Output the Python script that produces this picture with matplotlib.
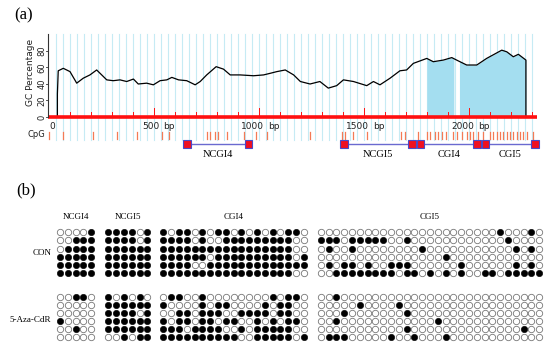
import numpy as np
import matplotlib
matplotlib.use("Agg")
import matplotlib.pyplot as plt
from matplotlib.patches import Rectangle

# ---- (a) GC content / CpG map ----
gc_bp = [0, 40, 40, 44, 68, 100, 132, 163, 195, 227, 251, 275, 306, 338, 370, 402, 425, 465,
         497, 529, 561, 585, 617, 656, 696, 720, 751, 796, 831, 863, 910, 974, 1022, 1054,
         1085, 1125, 1165, 1197, 1243, 1290, 1330, 1370, 1402, 1450, 1513, 1545, 1576, 1624,
         1671, 1703, 1735, 1799, 1830, 1878, 1918, 1941, 1989, 2037, 2084, 2156, 2180, 2211,
         2235, 2271, 2271]
gc_pct = [0, 0, 28, 56, 59, 55, 41, 47, 51, 57, 51, 45, 44, 45, 43, 46, 40, 41,
          39, 44, 45, 48, 45, 44, 39, 43, 51, 61, 58, 51, 51, 50, 51, 53,
          55, 57, 51, 43, 40, 43, 35, 38, 45, 43, 38, 43, 39, 47,
          56, 57, 65, 71, 67, 69, 72, 69, 63, 63, 71, 81, 79, 73,
          76, 69, 0]
seq_len = 2324
island_start = [1799, 1954]
island_end = [1928, 2271]
cpg_sites = [2, 68, 208, 322, 418, 537, 573, 751, 767, 790, 806, 849, 930, 986, 1037,
             1243, 1394, 1410, 1446, 1513, 1675, 1695, 1759, 1799, 1814, 1838, 1854, 1870,
             1890, 1925, 1941, 1965, 1989, 2005, 2020, 2044, 2068, 2100, 2116, 2132, 2148,
             2163, 2179, 2195, 2211, 2227, 2243, 2259, 2275, 2306]
primer_names = ["NCGI4", "NCGI5", "CGI4", "CGI5"]
primer_f = [638, 1386, 1751, 2060]
primer_r = [933, 1711, 2021, 2295]
bp_labels = [500, 1000, 1500, 2000]
gc_ticks = [0, 20, 40, 60, 80]

# ---- (b) methylation patterns (1 = methylated) ----
ncgi4_con = ["00001", "00111", "01111", "11111", "11111", "11111"]
ncgi5_con = ["111101", "111101", "111111", "111111", "111111", "111111"]
cgi4_con = ["1011010110101010110",
            "1111010011111111100",
            "1111111111111111100",
            "1111110111111111101",
            "1111001111111111111",
            "1111111111111111100"]
ncgi4_aza = ["00110", "00000", "00000", "10000", "00100", "00000"]
ncgi5_aza = ["101010", "111111", "111101", "111111", "111111", "001011"]
cgi4_aza = ["0110010000000010110",
            "1000010110000101100",
            "0011011100111101100",
            "1011011011001010110",
            "1110111100101111100",
            "1111111111001111101"]
cgi5_ncol = 29
cgi5_con = [[23, 27],
            [0, 1, 2, 4, 5, 6, 7, 8, 11, 24],
            [1, 4, 13, 25, 27],
            [16],
            [1, 3, 4, 6, 9, 10, 11, 18, 25, 27],
            [2, 3, 4, 5, 6, 7, 8, 9, 11, 12, 14, 16, 18, 21, 22, 24, 25, 26, 27, 28]]
cgi5_aza = [[2], [5, 10], [3, 11], [2, 15], [11, 26], [1, 2, 3, 9, 12, 16]]
group_names = ["CON", "5-Aza-CdR"]


def cgi5_rows(idx_rows):
    out = []
    for r in idx_rows:
        s = ["0"] * cgi5_ncol
        for i in r:
            s[i] = "1"
        out.append("".join(s))
    return out


fig = plt.figure(figsize=(5.5, 3.5), dpi=100)

# panel (a): x in bp, y in GC %
ax = fig.add_axes([0, 0.5, 1, 0.5])
ax.set_xlim(-233.3, 2385.7)
ax.set_ylim(-70.3, 141.8)
ax.axis("off")

for x in np.arange(100 / 3, seq_len, 100 / 3):
    ax.plot([x, x], [-28, 100.5], color="#c6ebf4", lw=0.8, zorder=1)

dense = np.linspace(0, 2271, 3000)
dense_gc = np.interp(dense, gc_bp[3:-1], gc_pct[3:-1])
for s, e in zip(island_start, island_end):
    m = (dense >= s) & (dense <= e)
    ax.fill_between(dense[m], 0, dense_gc[m], color="#a4def0", lw=0, zorder=2)

ax.plot(gc_bp, gc_pct, color="black", lw=0.9, zorder=3)

# red sequence bar and ticks
ax.plot([-5, seq_len], [0.6, 0.6], color="#ff1010", lw=2.6, solid_capstyle="butt", zorder=4)
for t in range(100, seq_len, 100):
    top = 10.5 if t % 500 == 0 else 6.5
    ax.plot([t, t], [1.5, top], color="#ff1010", lw=0.7, zorder=4)

# left axis
ax.plot([-5, -5], [0, 100.5], color="#333333", lw=0.8, zorder=5)
for t in gc_ticks:
    ax.plot([-15, -5], [t, t], color="#333333", lw=0.6)
    ax.text(-33, t, str(t), rotation=90, ha="center", va="center", fontsize=6, color="#222222")
ax.text(-86, 54, "GC Percentage", rotation=90, ha="center", va="center", fontsize=6.5,
        color="#222222")

ax.text(0, -12, "0", ha="left", va="center", fontsize=6.5, color="#222222")
for b in bp_labels:
    ax.text(b + 24, -12, str(b), ha="right", va="center", fontsize=6.5, color="#222222")
    ax.text(b + 45, -12, "bp", ha="left", va="center", fontsize=6.5, color="#222222")

ax.text(-19, -21.8, "CpG", ha="right", va="center", fontsize=6, color="#222222")
for c in cpg_sites:
    ax.plot([c, c], [-18.2, -26.7], color="#f47a55", lw=0.9, zorder=4)

box_w = 36
for name, f, r in zip(primer_names, primer_f, primer_r):
    ax.plot([f + box_w, r], [-32.7, -32.7], color="#6a6ad0", lw=1.0, zorder=5)
    for p in (f, r):
        ax.add_patch(Rectangle((p, -37.6), box_w, 9.7, facecolor="#f01020",
                               edgecolor="#4a4ac8", lw=0.8, zorder=6))
    ax.text((f + r + box_w) / 2, -46, name, ha="center", va="center", fontsize=7.5,
            family="Liberation Serif")

ax.text(-121, 123.6, "(a)", ha="center", va="center", fontsize=12, family="Liberation Serif")

# panel (b): pixel-like coordinates
bx = fig.add_axes([0, 0, 1, 0.5])
bx.set_xlim(0, 550)
bx.set_ylim(350, 175)
bx.axis("off")

pitch_x = 7.8
blocks = [("NCGI4", 60.0, ncgi4_con, ncgi4_aza),
          ("NCGI5", 108.3, ncgi5_con, ncgi5_aza),
          ("CGI4", 163.3, cgi4_con, cgi4_aza),
          ("CGI5", 320.7, cgi5_rows(cgi5_con), cgi5_rows(cgi5_aza))]
row_y0 = [232.0, 297.0]
row_pitch = [8.25, 8.0]

for name, x0, con, aza in blocks:
    ncol = len(con[0])
    bx.text(x0 + (ncol - 1) * pitch_x / 2, 217, name, ha="center", va="center",
            fontsize=6.5, family="Liberation Serif")
    for g, rows in enumerate([con, aza]):
        for i, row in enumerate(rows):
            vals = np.array([int(ch) for ch in row])
            xs = x0 + np.arange(len(vals)) * pitch_x
            ys = np.full(len(vals), row_y0[g] + i * row_pitch[g])
            bx.scatter(xs[vals == 1], ys[vals == 1], s=21, c="black", lw=0.4,
                       edgecolors="black", zorder=3)
            bx.scatter(xs[vals == 0], ys[vals == 0], s=21, facecolors="white",
                       edgecolors="#777777", lw=0.6, zorder=3)

bx.text(52, 253, group_names[0], ha="right", va="center", fontsize=6.5, family="Liberation Serif")
bx.text(51, 320, group_names[1], ha="right", va="center", fontsize=6.5, family="Liberation Serif")
bx.text(26, 190, "(b)", ha="center", va="center", fontsize=12, family="Liberation Serif")

fig.savefig("out.png", dpi=100)
